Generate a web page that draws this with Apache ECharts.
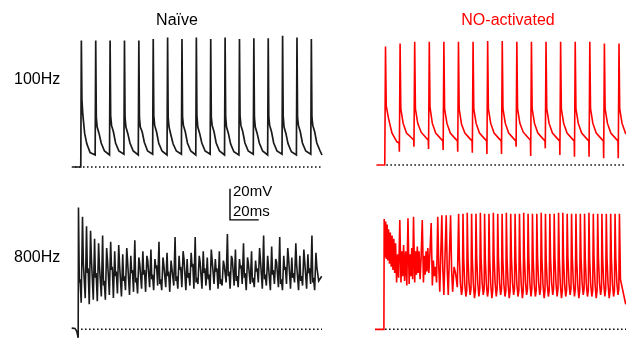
<!DOCTYPE html>
<html>
<head>
<meta charset="utf-8">
<script src="https://cdn.jsdelivr.net/npm/echarts@6/dist/echarts.min.js"></script>
<style>
  html, body { margin: 0; padding: 0; background: #ffffff; }
  #chart { width: 626px; height: 345px; }
</style>
</head>
<body>
<div id="chart"></div>
<script>
// Membrane potential traces (time in ms, voltage in mV relative to rest).

// ---- 100 Hz, naive: one row per stimulus ----
// [stimulus time, pre-spike, peak, then decay samples]
const naive100Offsets = [-0.2, 0.2, 0.6, 1.2, 2.5, 4.0, 6.3];
const naive100Lead = [[-1.5, 0]];
const naive100Cycles = [
  [5,   0,   79,   42, 33, 21, 14.5, 9],
  [15,  7.5, 79,   31, 25, 21, 15,   10],
  [25,  7.5, 79,   32, 26, 22, 15,   10],
  [35,  8,   79,   31, 25, 21, 15,   10],
  [45,  7.5, 79,   31, 25, 22, 15.5, 10],
  [55,  8,   80,   32, 26, 22, 15,   10],
  [65,  7.5, 81,   31, 25, 20, 14.5, 10],
  [75,  8,   80,   31, 26, 22, 15,   10],
  [85,  7.5, 81,   32, 25, 21, 15,   10],
  [95,  8,   80,   31, 26, 22, 15,   10],
  [105, 7.5, 81,   31, 25, 21, 14.5, 9.5],
  [115, 7.5, 80,   32, 26, 22, 15,   10],
  [125, 8,   80.5, 31, 25, 21, 15,   10],
  [135, 7.5, 80.5, 31, 26, 22, 15,   10],
  [145, 8,   82,   32, 25, 21, 14.5, 9.5],
  [155, 7.5, 81,   31, 26, 22, 15,   10],
  [165, 8,   80,   31, 26, 22, 15,   10]
];
const naive100Tail = [[172.6, 7.5]];

// ---- 100 Hz, NO-activated ----
// [stimulus time, notch, peak, then decay samples]
const no100Offsets = [-0.3, 0.2, 0.7, 2.3, 4.6, 8.0, 9.5];
const no100Lead = [[-1, 0]];
const no100Cycles = [
  [5,   0,    74,   37, 29, 20,   14.5, 13.7],
  [15,  8.3,  76,   35, 26, 20,   17,   15.6],
  [25,  11.4, 77,   35, 26, 20.5, 17,   15.5],
  [35,  10,   77,   36, 26, 20,   16.5, 15],
  [45,  9.4,  77,   35, 26, 20,   16.5, 15],
  [55,  8.3,  77,   35, 25.5, 20, 16.5, 15],
  [65,  7.7,  77,   35, 26, 20,   16.5, 15],
  [75,  6.9,  77.5, 35, 26, 20,   16.5, 15],
  [85,  6.9,  77.5, 35, 26, 20,   16.5, 15],
  [95,  11.4, 77,   35, 26, 20.5, 17,   15.5],
  [105, 5.6,  77,   35, 26, 20,   16.5, 15],
  [115, 10.4, 77,   35, 26, 20,   16.5, 15],
  [125, 6.3,  77,   35, 26, 20,   16.5, 15],
  [135, 5.2,  77,   35, 26, 20,   16.5, 15],
  [145, 5.2,  77,   35, 26, 20,   16.5, 15],
  [155, 4.2,  76,   35, 26, 20,   16.5, 15],
  [165, 4.2,  76,   35, 26, 20,   17,   15.5]
];

// ---- 800 Hz, naive: onset, then one row per 2.8 ms cycle ----
// [peak, falling phase, rebound, trough]
const naive800Lead = [[-1.5, 0.8], [0.8, 0.6], [2.0, -1.2], [3.0, -5.4]];
const naive800Start = 3.2;
const naive800Period = 2.8;
const naive800Offsets = [0, 0.6, 1.1, 1.9];
const naive800Cycles = [
  [78, 30, 32, 17], [72, 42, 43, 20], [66, 36, 39, 16], [63, 45, 46, 19],
  [58, 33, 36, 18], [55, 40, 41, 21], [60, 28, 31, 19], [52, 44, 45, 22],
  [56, 38, 40, 20], [50, 34, 37, 23], [54, 41, 42, 21], [48, 31, 34, 25],
  [52, 43, 44, 22], [47, 36, 38, 24], [57, 30, 33, 23], [46, 42, 43, 26],
  [50, 35, 38, 24], [47, 44, 45, 27], [51, 32, 35, 25], [45, 39, 41, 28],
  [56, 29, 32, 25], [46, 41, 42, 27], [49, 34, 37, 24], [44, 43, 43, 28],
  [59, 31, 34, 26], [47, 38, 40, 27], [50, 45, 46, 25], [45, 33, 36, 28],
  [49, 40, 42, 26], [59, 30, 33, 29], [47, 43, 44, 26], [50, 36, 39, 28],
  [46, 32, 35, 25], [51, 44, 45, 29], [45, 37, 39, 26], [50, 29, 32, 28],
  [44, 41, 42, 30], [61, 34, 37, 26], [47, 45, 46, 28], [51, 31, 34, 27],
  [45, 39, 41, 29], [55, 33, 36, 25], [46, 42, 43, 29], [50, 30, 33, 27],
  [44, 37, 39, 30], [52, 44, 45, 26], [60, 32, 35, 28], [47, 40, 41, 25],
  [53, 35, 38, 29], [45, 43, 44, 27], [59, 29, 32, 25], [47, 38, 40, 29],
  [52, 45, 46, 26], [46, 33, 36, 30], [55, 41, 42, 25], [47, 31, 34, 28],
  [51, 43, 44, 26], [48, 36, 39, 29], [60, 30, 33, 25], [49, 40, 41, 31]
];
const naive800Tail = [[170.6, 31], [171.6, 31], [172.4, 34]];

// ---- 800 Hz, NO-activated ----
const no800Lead = [
  [-2, 0], [4.1, 0], [4.3, 70.6],
  [4.8, 46], [5.3, 69], [5.8, 45], [6.3, 67], [6.8, 44], [7.3, 64], [7.9, 42],
  [8.5, 62], [9.1, 40], [9.7, 60], [10.3, 38], [10.9, 58], [11.5, 36],
  [12.1, 55], [12.8, 30], [13.5, 48], [14.2, 33], [15.0, 70], [15.8, 30],
  [16.4, 50], [17.0, 34], [17.6, 54], [18.3, 31], [19.0, 50], [19.8, 28],
  [20.6, 71], [21.4, 29], [22.0, 48], [22.6, 34], [23.2, 52], [23.8, 32],
  [24.4, 72], [25.2, 30], [25.8, 50], [26.4, 35], [27.0, 53], [27.6, 36],
  [28.2, 50], [28.9, 32], [29.6, 46], [30.4, 70], [31.2, 30], [31.8, 47],
  [32.4, 35], [33.0, 50], [33.6, 37], [34.2, 52], [34.9, 36], [35.6, 48],
  [36.5, 68], [37.3, 28], [38.0, 44], [38.6, 34], [39.3, 40], [40.2, 30],
  [41.0, 72], [41.7, 40], [42.4, 24], [43.8, 73], [44.5, 38], [45.2, 22],
  [46.8, 73], [47.5, 38], [48.2, 22], [49.8, 73], [50.5, 38], [51.2, 24],
  [52.2, 40], [53.2, 36], [54.4, 27]
];
// regular firing: [spike time, peak, falling phase, shoulder, trough, pre-spike]
const no800TrainOffsets = [0, 0.5, 1.2, 2.0, 2.6];
const no800Train = [
  [55.3, 74, 46, 30, 22, 26], [58.3, 74, 45, 29, 21, 25], [61.2, 74.5, 46, 30, 22, 26],
  [64.2, 74, 45, 29, 20, 25], [67.2, 74, 46, 30, 21, 26], [70.2, 74.5, 46, 30, 22, 26],
  [73.1, 74, 45, 29, 21, 25], [76.1, 74, 45, 29, 20, 25], [79.1, 74.5, 46, 30, 21, 26],
  [82.1, 74, 46, 30, 22, 26], [85.1, 74, 45, 29, 21, 25], [88.0, 74.5, 45, 29, 20, 25],
  [91.0, 74, 46, 30, 22, 26], [94.0, 74, 45, 29, 21, 25], [97.0, 74, 45, 29, 20, 25],
  [99.9, 74.5, 46, 30, 22, 26], [102.9, 74, 46, 30, 21, 26], [105.9, 74, 45, 29, 21, 25],
  [108.9, 74, 46, 30, 22, 26], [111.9, 74.5, 45, 29, 20, 25], [114.8, 74, 45, 29, 21, 25],
  [117.8, 74, 46, 30, 22, 26], [120.8, 74, 46, 30, 21, 26], [123.8, 74.5, 45, 29, 20, 25],
  [126.7, 74.5, 45, 29, 21, 25], [129.7, 74, 46, 30, 22, 26], [132.7, 74, 46, 30, 21, 26],
  [135.7, 74, 45, 29, 20, 25], [138.7, 74, 46, 30, 22, 26], [141.6, 74, 45, 29, 21, 25],
  [144.6, 74.5, 45, 29, 21, 25], [147.6, 74, 45, 29, 20, 25], [150.6, 74, 46, 30, 22, 26],
  [153.5, 74, 46, 30, 21, 26], [156.5, 74, 45, 29, 20, 25], [159.5, 74, 45, 29, 21, 25],
  [162.5, 74, 46, 30, 22, 26]
];
const no800Tail = [[165.5, 74], [166.2, 32], [169.8, 16]];

// Dotted resting-level reference lines [start, end] (ms)
const restNaive100 = [0.8, 172.6];
const restNO100 = [5.8, 172];
const restNaive800 = [5, 172.6];
const restNO800 = [4.9, 172];

// Scale bar: 20 mV / 20 ms, anchored in the naive 800 Hz panel
const scaleBarTime = 108.6;
const scaleBarBase = 70;
const scaleBarMV = 20;
const scaleBarMS = 20;

// Text
const columnTitles = ['Naïve', 'NO-activated'];
const rowLabels = ['100Hz', '800Hz'];
const scaleLabels = ['20mV', '20ms'];

// ---- build point lists ----
function fromCycles(lead, rows, offsets, tail) {
  const pts = lead.map(p => p.slice());
  rows.forEach(r => {
    for (let j = 1; j < r.length; j++) pts.push([r[0] + offsets[j - 1], r[j]]);
  });
  return tail ? pts.concat(tail) : pts;
}
function fromPeriodic(lead, start, period, offsets, rows, tail) {
  const pts = lead.map(p => p.slice());
  rows.forEach((r, i) => {
    const t0 = start + i * period;
    r.forEach((v, j) => pts.push([t0 + offsets[j], v]));
  });
  return pts.concat(tail);
}

const naive100 = fromCycles(naive100Lead, naive100Cycles, naive100Offsets, naive100Tail);
const no100 = fromCycles(no100Lead, no100Cycles, no100Offsets, null);
const naive800 = fromPeriodic(naive800Lead, naive800Start, naive800Period, naive800Offsets, naive800Cycles, naive800Tail);
const no800 = fromCycles(no800Lead, no800Train, no800TrainOffsets, no800Tail);

const BLACK = '#1a1a1a';
const RED = '#ff0000';
const FONT = 'Liberation Sans, Arial, sans-serif';

function trace(data, idx, color, width) {
  return {
    type: 'line', data: data, xAxisIndex: idx, yAxisIndex: idx,
    showSymbol: false, symbol: 'none', animation: false, silent: true,
    lineStyle: { color: color, width: width, join: 'miter', miterLimit: 4 },
    z: 3
  };
}
function restLine(range, idx) {
  return {
    type: 'line', data: [[range[0], 0], [range[1], 0]], xAxisIndex: idx, yAxisIndex: idx,
    showSymbol: false, symbol: 'none', animation: false, silent: true,
    lineStyle: { color: '#000', width: 1.5, type: [1.5, 2.5], cap: 'butt' },
    z: 2
  };
}

const axisHidden = { show: false };
const chart = echarts.init(document.getElementById('chart'), null, { renderer: 'canvas' });
chart.setOption({
  animation: false,
  backgroundColor: '#ffffff',
  grid: [
    { left: 71,  top: 23,  width: 253, height: 160 },
    { left: 375, top: 21,  width: 252, height: 160 },
    { left: 71,  top: 173, width: 253, height: 176 },
    { left: 375, top: 173, width: 252, height: 176 }
  ],
  xAxis: [
    Object.assign({ type: 'value', gridIndex: 0, min: -2, max: 174 }, axisHidden),
    Object.assign({ type: 'value', gridIndex: 1, min: -2, max: 170 }, axisHidden),
    Object.assign({ type: 'value', gridIndex: 2, min: -2, max: 174 }, axisHidden),
    Object.assign({ type: 'value', gridIndex: 3, min: -2, max: 170 }, axisHidden)
  ],
  yAxis: [
    Object.assign({ type: 'value', gridIndex: 0, min: -10, max: 90 }, axisHidden),
    Object.assign({ type: 'value', gridIndex: 1, min: -10, max: 90 }, axisHidden),
    Object.assign({ type: 'value', gridIndex: 2, min: -10, max: 100 }, axisHidden),
    Object.assign({ type: 'value', gridIndex: 3, min: -10, max: 100 }, axisHidden)
  ],
  series: [
    restLine(restNaive100, 0),
    restLine(restNO100, 1),
    restLine(restNaive800, 2),
    restLine(restNO800, 3),
    trace(naive100, 0, BLACK, 1.7),
    trace(no100, 1, RED, 1.6),
    trace(naive800, 2, BLACK, 1.6),
    trace(no800, 3, RED, 1.6),
    {
      type: 'line', xAxisIndex: 2, yAxisIndex: 2, showSymbol: false, symbol: 'none',
      animation: false, silent: true,
      data: [
        [scaleBarTime, scaleBarBase + scaleBarMV],
        [scaleBarTime, scaleBarBase],
        [scaleBarTime + scaleBarMS, scaleBarBase]
      ],
      lineStyle: { color: '#000', width: 1.4, join: 'miter' }
    }
  ],
  graphic: [
    { type: 'text', x: 177, y: 21, style: { text: columnTitles[0], fill: '#000', font: '16px ' + FONT, textAlign: 'center', textVerticalAlign: 'middle' } },
    { type: 'text', x: 508, y: 21, style: { text: columnTitles[1], fill: RED, font: '16px ' + FONT, textAlign: 'center', textVerticalAlign: 'middle' } },
    { type: 'text', x: 14, y: 80, style: { text: rowLabels[0], fill: '#000', font: '16px ' + FONT, textAlign: 'left', textVerticalAlign: 'middle' } },
    { type: 'text', x: 14, y: 258, style: { text: rowLabels[1], fill: '#000', font: '16px ' + FONT, textAlign: 'left', textVerticalAlign: 'middle' } },
    { type: 'text', x: 233, y: 192, style: { text: scaleLabels[0], fill: '#000', font: '15px ' + FONT, textAlign: 'left', textVerticalAlign: 'middle' } },
    { type: 'text', x: 233, y: 212, style: { text: scaleLabels[1], fill: '#000', font: '15px ' + FONT, textAlign: 'left', textVerticalAlign: 'middle' } }
  ]
});
</script>
</body>
</html>
